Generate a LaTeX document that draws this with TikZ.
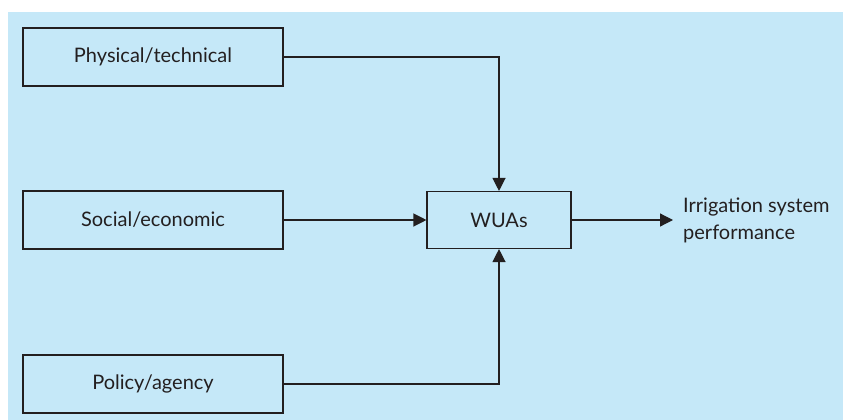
\documentclass[tikz,border=0pt]{standalone}
\usepackage{fontspec}
\setmainfont{Lato}
\usetikzlibrary{arrows.meta}
\definecolor{panelblue}{HTML}{C5E8F8}
\definecolor{inkdark}{HTML}{231F20}
\begin{document}
\begin{tikzpicture}[x=1pt,y=-1pt,
  factor/.style={draw=inkdark,line width=1.1pt,fill=panelblue,minimum width=260pt,minimum height=58pt,inner sep=0pt,font=\fontsize{20}{24}\selectfont,text=inkdark},
  hub/.style={factor,minimum width=144pt,minimum height=57pt},
  link/.style={draw=inkdark,line width=1.2pt,-{Triangle[length=13pt,width=13pt]}}]
  \useasboundingbox (0,0) rectangle (843,420);
  % background panel
  \fill[panelblue] (8,12) rectangle (843,420);
  % factor boxes
  \node[factor] (phys) at (153,57) {Physical/technical};
  \node[factor] (soc) at (153,220) {Social/economic};
  \node[factor] (pol) at (153,384) {Policy/agency};
  \node[hub] (wua) at (499,220) {WUAs};
  % outcome label
  \node[anchor=west,align=left,inner sep=0pt,font=\fontsize{20}{27}\selectfont,text=inkdark] (out) at (683,220) {Irrigation system\\performance};
  % connectors
  \draw[link] (phys.east) -| (wua.north);
  \draw[link] (soc.east) -- (wua.west);
  \draw[link] (pol.east) -| (wua.south);
  \draw[link] (wua.east) -- ([xshift=-10pt]out.west);
\end{tikzpicture}
\end{document}
